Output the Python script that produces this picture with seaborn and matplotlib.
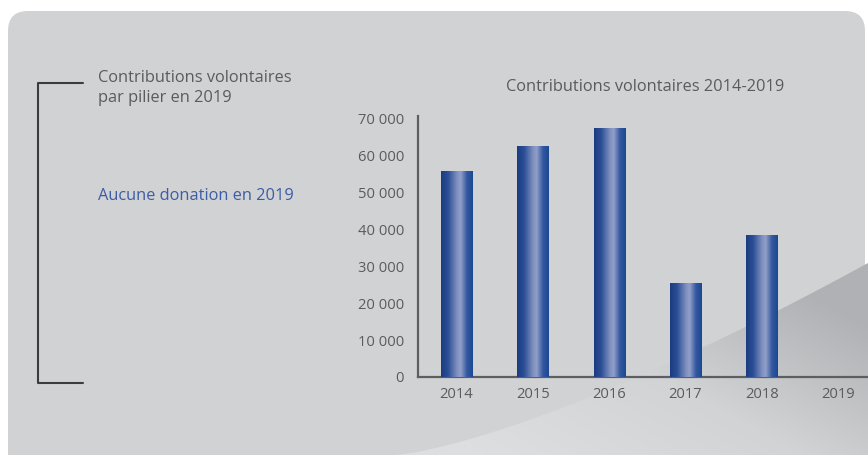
import numpy as np
import matplotlib
matplotlib.use('Agg')
import matplotlib.pyplot as plt
import seaborn as sns
from matplotlib.patches import FancyBboxPatch, Polygon
from matplotlib.colors import LinearSegmentedColormap

sns.set_style('white')
plt.rcParams['font.family'] = ['Open Sans', 'DejaVu Sans']

# data
years = ['2014', '2015', '2016', '2017', '2018', '2019']
contributions = [55900, 62700, 67600, 25500, 38500, 0]
yticks = [0, 10000, 20000, 30000, 40000, 50000, 60000, 70000]
ytick_labels = ['0', '10 000', '20 000', '30 000', '40 000', '50 000', '60 000', '70 000']

TXT = '#5a5b5d'
BLUE = '#3d5ca6'
W, H = 868, 455

fig = plt.figure(figsize=(W / 100, H / 100), dpi=100)
fig.patch.set_facecolor('white')

# background panel (pixel coordinates)
bg = fig.add_axes([0, 0, 1, 1])
bg.set_xlim(0, W)
bg.set_ylim(H, 0)
bg.axis('off')
panel = FancyBboxPatch((8, 11), 857, 500, boxstyle='round,pad=0,rounding_size=20',
                       fc='#d1d2d4', ec='none')
bg.add_patch(panel)

# swoosh in the lower right
cx = np.linspace(395, W, 60)
t = (cx - 395) / (W - 395)
cy = 455 - 192 * t ** 1.35
swoosh = Polygon(np.column_stack([np.r_[cx, W], np.r_[cy, H]]), closed=True,
                 fc='none', ec='none')
bg.add_patch(swoosh)
gx, gy = np.meshgrid(np.linspace(0, 1, 200), np.linspace(0, 1, 100))
grad = np.clip(0.75 * gx + 0.6 * (1 - gy) - 0.15, 0, 1)
cm_bg = LinearSegmentedColormap.from_list('bg', ['#dddee0', '#d2d3d5', '#b0b1b4'])
im = bg.imshow(grad, cmap=cm_bg, extent=(395, W, H, 255), aspect='auto', zorder=1)
im.set_clip_path(swoosh)

# bracket on the left
bg.plot([83, 38, 38, 83], [83, 83, 383, 383], color='#3c3c3e', lw=1.5, zorder=2)
bg.text(98, 88, 'Contributions volontaires\npar pilier en 2019', color=TXT,
        fontsize=11.8, va='center', ha='left', linespacing=1.32, zorder=3)
bg.text(98, 196, 'Aucune donation en 2019', color=BLUE, fontsize=11.8,
        va='center', ha='left', zorder=3)
bg.text(645, 87, 'Contributions volontaires 2014-2019', color=TXT, fontsize=11.8,
        va='center', ha='center', zorder=3)

# bar chart
ax = fig.add_axes([418 / W, 1 - 377 / H, 1 - 418 / W, (377 - 116) / H])
ax.patch.set_alpha(0)
sns.barplot(x=years, y=contributions, ax=ax, width=0.41, color='#2a4f96',
            linewidth=0, edgecolor='none')
ax.set_yticks(yticks)
ax.set_yticklabels(ytick_labels)
ax.tick_params(axis='both', length=0, colors=TXT, labelsize=10.6)
ax.tick_params(axis='y', pad=10)
ax.tick_params(axis='x', pad=7)
for s in ['top', 'right']:
    ax.spines[s].set_visible(False)
for s in ['left', 'bottom']:
    ax.spines[s].set_color('#5e5e60')
    ax.spines[s].set_linewidth(1.6)
ax.set_xlabel('')
ax.set_ylabel('')
ax.grid(False)

# metallic gradient on each bar
cm_bar = LinearSegmentedColormap.from_list(
    'bar', [(0, '#1b3c80'), (0.22, '#2b4f96'), (0.5, '#7f8fbf'), (0.62, '#909ec8'),
            (0.82, '#3458a0'), (1, '#1b4892')])
strip = np.linspace(0, 1, 64).reshape(1, -1)
for p in ax.patches:
    h = p.get_height()
    if h <= 0:
        continue
    x0 = p.get_x()
    img = ax.imshow(strip, cmap=cm_bar, extent=(x0, x0 + p.get_width(), 0, h),
                    aspect='auto', zorder=3)
    img.set_clip_path(p)
    p.set_facecolor('none')
ax.set_xlim(-0.505, 5.39)
ax.set_ylim(0, 70800)

fig.savefig('out.png', dpi=100)
